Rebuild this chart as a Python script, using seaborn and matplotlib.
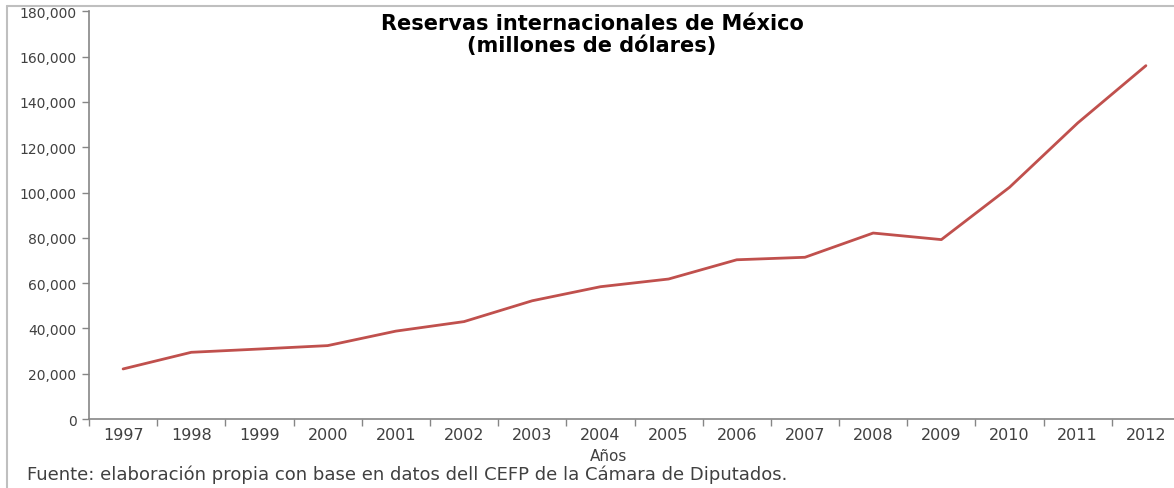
import matplotlib
matplotlib.use("Agg")
import matplotlib.pyplot as plt
import seaborn as sns
import numpy as np
import pandas as pd
from matplotlib.lines import Line2D
from matplotlib.ticker import FuncFormatter, NullLocator

years = ["1997", "1998", "1999", "2000", "2001", "2002", "2003", "2004",
         "2005", "2006", "2007", "2008", "2009", "2010", "2011", "2012"]
reservas = [22100, 29450, 30900, 32400, 38800, 43000, 52200, 58400,
            61800, 70300, 71400, 82100, 79200, 102300, 130700, 156000]
yticks = [0, 20000, 40000, 60000, 80000, 100000, 120000, 140000, 160000, 180000]

title = "Reservas internacionales de México\n(millones de dólares)"
xlabel = "Años"
fuente = "Fuente: elaboración propia con base en datos dell CEFP de la Cámara de Diputados."

sns.set_style("white")
plt.rcParams['font.family'] = ['DejaVu Sans']

W, H = 1174, 489
fig = plt.figure(figsize=(W / 100, H / 100), dpi=100)
ax = fig.add_axes([89 / W, 1 - 420 / H, (1180 - 89) / W, (420 - 12.3) / H])

df = pd.DataFrame({"pos": np.arange(len(years)), "valor": reservas})
sns.lineplot(data=df, x="pos", y="valor", ax=ax, color="#C0504D", linewidth=2.0)

ax.set_xlim(-0.5, len(years) - 0.5)
ax.set_ylim(0, 180000)
ax.set_xticks(np.arange(len(years)))
ax.set_xticklabels(years)
ax.set_yticks(yticks)
ax.yaxis.set_major_formatter(FuncFormatter(lambda v, p: f"{int(v):,}"))
ax.yaxis.set_minor_locator(NullLocator())
ax.set_xticks(np.arange(len(years) + 1) - 0.5, minor=True)

ax.tick_params(axis="x", which="major", bottom=True, length=0, pad=6,
               labelsize=11.5, labelcolor="#404040")
ax.tick_params(axis="x", which="minor", bottom=True, length=5, width=1,
               color="#868686", direction="out")
ax.tick_params(axis="y", which="major", left=True, length=5, width=1, color="#868686",
               direction="out", labelsize=10, labelcolor="#404040", pad=4)

for s in ["top", "right"]:
    ax.spines[s].set_visible(False)
for s in ["left", "bottom"]:
    ax.spines[s].set_color("#868686")
    ax.spines[s].set_linewidth(1.2)
ax.set_xlabel("")
ax.set_ylabel("")
ax.grid(False)

fig.text(592 / W, 1 - 35 / H, title, ha="center", va="center", fontsize=15,
         fontweight="bold", color="black", linespacing=1.05)
fig.text(609 / W, 1 - 457 / H, xlabel, ha="center", va="center", fontsize=11, color="#404040")
fig.text(27 / W, 1 - 475 / H, fuente, ha="left", va="center", fontsize=13, color="#404040")

# outer chart border (left and top visible)
fig.add_artist(Line2D([7 / W, 7 / W], [0, 1 - 7 / H], transform=fig.transFigure,
                      color="#BFBFBF", linewidth=1.5))
fig.add_artist(Line2D([7 / W, 1], [1 - 7 / H, 1 - 7 / H], transform=fig.transFigure,
                      color="#BFBFBF", linewidth=1.5))

fig.savefig("out.png", dpi=100)
